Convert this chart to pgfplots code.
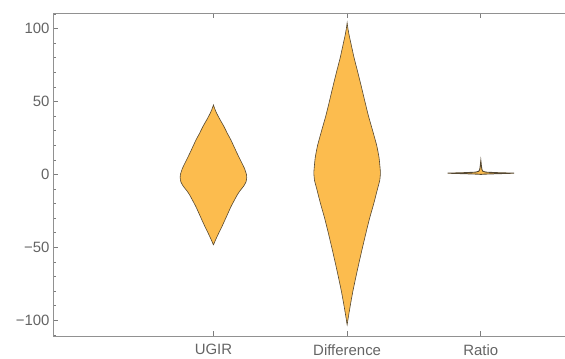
\documentclass[border=0pt]{standalone}
\usepackage{pgfplots}
\pgfplotsset{compat=1.18}
\usepackage{fontspec}
\setmainfont{Liberation Sans}
\definecolor{vfill}{RGB}{252,188,78}
\definecolor{vedge}{RGB}{85,72,50}
\definecolor{frame}{RGB}{145,145,145}
\definecolor{tickc}{RGB}{125,125,125}
\definecolor{lab}{RGB}{100,100,100}
\begin{document}
\begin{tikzpicture}
\begin{axis}[
  scale only axis,
  width=515bp, height=323bp,
  xmin=-0.2, xmax=3.652,
  ymin=-110.7, ymax=110.7,
  axis line style={draw=frame, line width=0.8bp},
  xtick={1,2,3},
  xticklabels={UGIR,Difference,Ratio},
  ytick={-100,-50,0,50,100},
  yticklabels={−100,−50,0,50,100},
  minor ytick={-110,-90,-80,-70,-60,-40,-30,-20,-10,10,20,30,40,60,70,80,90,110},
  ytick pos=left,
  xtick pos=both,
  tick align=inside,
  major tick length=5bp,
  minor tick length=3bp,
  tick style={draw=tickc, line width=0.8bp},
  ticklabel style={font=\fontsize{15}{17}\selectfont, text=lab},
  xticklabel style={yshift=-5bp},
  clip=false,
]
\coordinate (sw) at (rel axis cs:0,0);
\coordinate (ne) at (rel axis cs:1,1);
% UGIR
\addplot[fill=vfill, draw=vedge, line width=0.6bp, smooth, tension=0.3] coordinates {
(1,47.7) (1.010,45) (1.024,42) (1.047,38) (1.078,33) (1.105,28) (1.130,23.8) (1.176,14.7) (1.212,8) (1.233,4) (1.247,0) (1.249,-2) (1.244,-5) (1.226,-8) (1.200,-11) (1.178,-14) (1.132,-21.9) (1.087,-31) (1.062,-36) (1.040,-40.1) (1.020,-44) (1.008,-46.5) (1,-48.2)
(0.992,-46.5) (0.980,-44) (0.960,-40.1) (0.938,-36) (0.913,-31) (0.868,-21.9) (0.822,-14) (0.800,-11) (0.774,-8) (0.756,-5) (0.751,-2) (0.753,0) (0.767,4) (0.788,8) (0.824,14.7) (0.870,23.8) (0.895,28) (0.922,33) (0.953,38) (0.976,42) (0.990,45) (1,47.7)
} -- cycle;
% Difference
\addplot[fill=vfill, draw=vedge, line width=0.6bp, smooth, tension=0.3] coordinates {
(2,104) (2.006,100) (2.016,95) (2.028,90) (2.052,80) (2.080,70) (2.107,60) (2.133,50) (2.160,40) (2.191,30) (2.221,20) (2.238,12) (2.245,6) (2.249,1) (2.244,-4) (2.227,-10) (2.199,-20) (2.168,-30) (2.141,-40) (2.115,-50) (2.090,-60) (2.066,-70) (2.043,-80) (2.027,-88) (2.014,-95) (2.005,-100) (2,-103)
(1.995,-100) (1.986,-95) (1.973,-88) (1.957,-80) (1.934,-70) (1.910,-60) (1.885,-50) (1.859,-40) (1.832,-30) (1.801,-20) (1.773,-10) (1.756,-4) (1.751,1) (1.755,6) (1.762,12) (1.779,20) (1.809,30) (1.840,40) (1.867,50) (1.893,60) (1.920,70) (1.948,80) (1.972,90) (1.984,95) (1.994,100) (2,104)
} -- cycle;
% Ratio
\addplot[fill=vfill, draw=vedge, line width=0.9bp] coordinates {
(3,9.5) (3.004,6) (3.008,3.5) (3.015,2.2) (3.04,1.6) (3.12,1.25) (3.249,0.9) (3.12,0.55) (3.04,0.3) (3,0.1)
(2.96,0.3) (2.88,0.55) (2.751,0.9) (2.88,1.25) (2.96,1.6) (2.985,2.2) (2.992,3.5) (2.996,6) (3,9.5)
} -- cycle;
\end{axis}
\pgfresetboundingbox
\path[use as bounding box] ([xshift=-53bp,yshift=-23bp]sw) rectangle ([xshift=-3bp,yshift=13bp]ne);
\end{tikzpicture}
\end{document}
